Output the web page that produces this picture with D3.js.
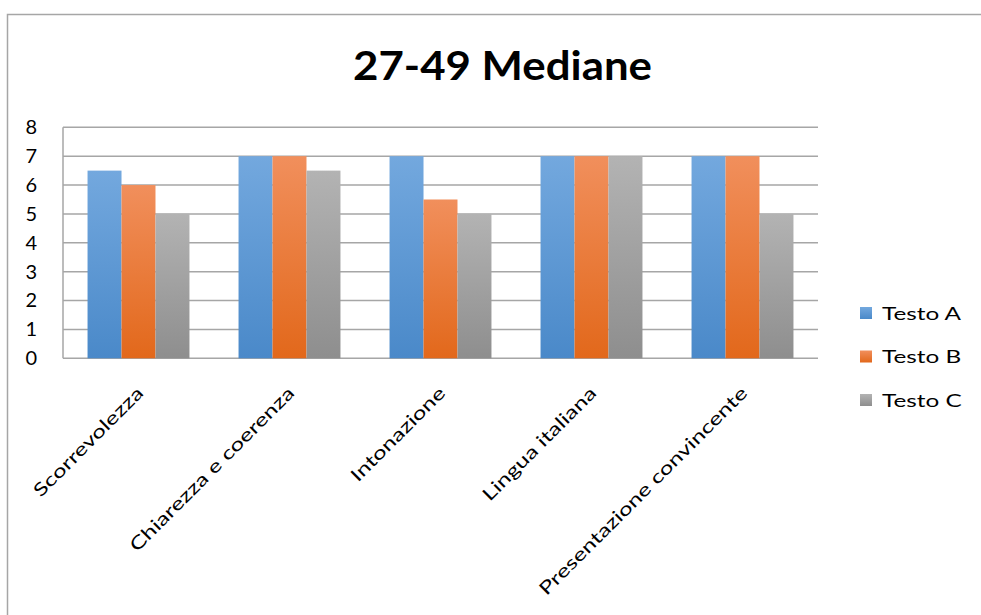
<!DOCTYPE html>
<html><head><meta charset="utf-8">
<script src="https://cdn.jsdelivr.net/npm/d3@7"></script>
<style>body{margin:0;background:#fff}svg{display:block;font-family:Lato,"Open Sans",sans-serif}</style>
</head><body><svg id="c" width="981" height="615"></svg>
<script>
const categories = ["Scorrevolezza","Chiarezza e coerenza","Intonazione","Lingua italiana","Presentazione convincente"];
const seriesNames = ["Testo A","Testo B","Testo C"];
const testoA = [6.5,7,7,7,7];
const testoB = [6,7,5.5,7,7];
const testoC = [5,6.5,5,7,5];
const yTicks = [0,1,2,3,4,5,6,7,8];
const title = "27-49 Mediane";

const series = [testoA,testoB,testoC];
const grads = [["#73a8de","#4a89c9"],["#f18f5c","#e2681b"],["#b3b3b3","#8e8e8e"]];

const svg = d3.select("#c");
const W=981,H=615;
const m={l:63,r:818,t:127.3,b:358.3};
const STRETCH = 1.35;
function stretch(sel, f){
  sel.each(function(){
    const L=this.getComputedTextLength();
    d3.select(this).attr("textLength",L*f).attr("lengthAdjust","spacingAndGlyphs");
  });
}

const defs = svg.append("defs");
grads.forEach((g,i)=>{
  const lg=defs.append("linearGradient").attr("id","g"+i).attr("x1",0).attr("y1",0).attr("x2",0).attr("y2",1);
  lg.append("stop").attr("offset","0%").attr("stop-color",g[0]);
  lg.append("stop").attr("offset","100%").attr("stop-color",g[1]);
});

// chart border
svg.append("rect").attr("x",7.5).attr("y",14.5).attr("width",W).attr("height",H).attr("fill","none").attr("stroke","#a6a6a6").attr("stroke-width",1.5);

svg.append("text").attr("x",502.5).attr("y",79.5).attr("text-anchor","middle")
  .attr("font-size",40).attr("font-weight","bold").attr("fill","#000")
  .attr("textLength",299).attr("lengthAdjust","spacingAndGlyphs").text(title);

const x = d3.scaleBand().domain(categories).range([m.l,m.r]).paddingInner(0).paddingOuter(0);
const y = d3.scaleLinear().domain([0,8]).range([m.b,m.t]);
const gapFrac = 0.325;

// gridlines
svg.append("g").selectAll("line").data(yTicks).join("line")
  .attr("x1",m.l).attr("x2",m.r).attr("y1",d=>y(d)).attr("y2",d=>y(d))
  .attr("stroke","#a6a6a6").attr("stroke-width",1.6);
svg.append("line").attr("x1",m.l).attr("x2",m.l).attr("y1",m.t).attr("y2",m.b).attr("stroke","#a6a6a6").attr("stroke-width",1.5);

// y labels
const yAxis = d3.axisLeft(y).tickValues(yTicks).tickSize(0).tickPadding(26);
const ya = svg.append("g").attr("transform",`translate(${m.l},0)`).call(yAxis);
ya.select(".domain").remove();
ya.selectAll("text").attr("font-size",20).attr("fill","#000").attr("font-family","Lato,'Open Sans',sans-serif");

// bars
const bw = x.bandwidth();
const groupW = bw*(1-gapFrac);
const xb = d3.scaleBand().domain(d3.range(3)).range([(bw-groupW)/2,(bw+groupW)/2]);
categories.forEach((c,ci)=>{
  const g = svg.append("g").attr("transform",`translate(${x(c)},0)`);
  g.selectAll("rect").data(series.map((s,si)=>({si,v:s[ci]}))).join("rect")
    .attr("x",d=>xb(d.si)).attr("width",xb.bandwidth())
    .attr("y",d=>y(d.v)).attr("height",d=>y(0)-y(d.v))
    .attr("fill",d=>`url(#g${d.si})`);
});

// x labels
svg.append("g").selectAll("text").data(categories).join("text")
  .attr("transform",d=>`translate(${x(d)+bw/2+6},${m.b+36}) rotate(-45)`)
  .attr("text-anchor","end").attr("font-size",18).attr("fill","#000").text(d=>d)
  .call(stretch, STRETCH);

// legend
const lg = svg.append("g");
seriesNames.forEach((n,i)=>{
  const yy = 313 + i*43.5;
  lg.append("rect").attr("x",860).attr("y",yy-6).attr("width",12).attr("height",12).attr("fill",`url(#g${i})`);
  lg.append("text").attr("x",882).attr("y",yy+6.5).attr("font-size",18).attr("fill","#000").text(n)
    .call(stretch, STRETCH);
});
</script></body></html>
